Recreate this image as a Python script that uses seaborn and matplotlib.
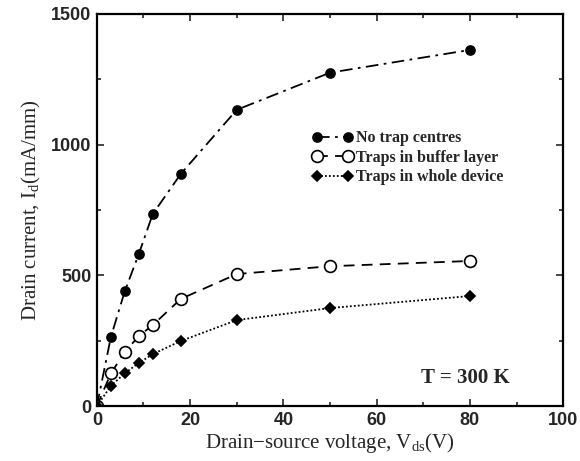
import numpy as np
import pandas as pd
import matplotlib
matplotlib.use("Agg")
import matplotlib.pyplot as plt
import seaborn as sns
from matplotlib.ticker import MultipleLocator

sns.set_theme(style="ticks")
plt.rcParams['mathtext.fontset'] = 'custom'
plt.rcParams['mathtext.rm'] = 'Liberation Serif'
plt.rcParams['mathtext.it'] = 'Liberation Serif:italic'

# data
vds = [0, 3, 6, 9, 12, 18, 30, 50, 80]
no_traps = [0, 264, 440, 582, 735, 888, 1133, 1275, 1362]
traps_buffer = [0, 125, 207, 268, 310, 410, 505, 535, 555]
traps_whole = [0, 77, 126, 165, 199, 249, 329, 375, 421]
series_names = ["No trap centres", "Traps in buffer layer", "Traps in whole device"]

df = pd.DataFrame({
    "vds": vds * 3,
    "id": no_traps + traps_buffer + traps_whole,
    "case": [series_names[0]] * 9 + [series_names[1]] * 9 + [series_names[2]] * 9,
})

fig = plt.figure(figsize=(5.8, 4.61), dpi=100)
ax = fig.add_axes([0.167, 0.119, 0.804, 0.851])

styles = {
    series_names[0]: dict(marker="o", mfc="black", ms=6.5, ls=(0, (7, 3, 1.5, 3))),
    series_names[1]: dict(marker="o", mfc="white", ms=8.5, ls=(0, (6, 4))),
    series_names[2]: dict(marker="D", mfc="black", ms=5.5, ls=(0, (1, 1.2))),
}
for name in series_names:
    st = styles[name]
    sub = df[df["case"] == name]
    sns.lineplot(data=sub, x="vds", y="id", ax=ax, color="black", lw=1.3,
                 linestyle=st["ls"], marker=st["marker"], markersize=st["ms"],
                 markerfacecolor=st["mfc"], markeredgecolor="black",
                 markeredgewidth=1.2, label=name)

ax.set_xlim(0, 100)
ax.set_ylim(0, 1500)
ax.xaxis.set_major_locator(MultipleLocator(20))
ax.xaxis.set_minor_locator(MultipleLocator(10))
ax.yaxis.set_major_locator(MultipleLocator(500))
ax.yaxis.set_minor_locator(MultipleLocator(250))
ax.tick_params(which="both", direction="in", top=True, right=True, width=1.2)
ax.tick_params(which="major", length=5, labelsize=13, pad=4)
ax.tick_params(which="minor", length=3)
for lab in ax.get_xticklabels() + ax.get_yticklabels():
    lab.set_fontfamily("Liberation Sans")
    lab.set_fontweight("bold")
for sp in ax.spines.values():
    sp.set_linewidth(1.6)
    sp.set_color("black")

ax.set_xlabel(r"Drain$-$source voltage, V$_{\mathrm{ds}}$(V)", family="Liberation Serif",
              fontsize=15, labelpad=2)
ax.set_ylabel(r"Drain current, I$_{\mathrm{d}}$(mA/mm)", family="Liberation Serif",
              fontsize=15, labelpad=6)

leg = ax.legend(loc="upper left", bbox_to_anchor=(0.43, 0.74), frameon=False,
                prop={"family": "Liberation Serif", "size": 11.5, "weight": "bold"},
                handlelength=2.6, handletextpad=0.2, labelspacing=0.22, numpoints=2)

ax.text(0.695, 0.072, "T = 300 K", transform=ax.transAxes, family="Liberation Serif",
        fontsize=15, fontweight="bold", ha="left", va="center")

fig.savefig("out.png", dpi=100)
